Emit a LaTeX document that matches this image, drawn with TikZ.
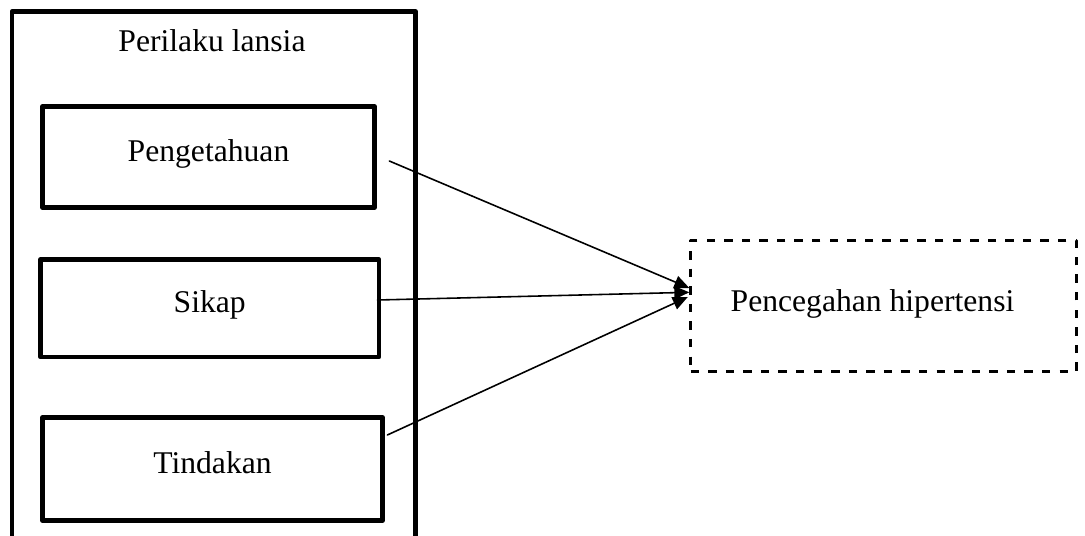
\documentclass[tikz,border=0pt]{standalone}
\usepackage{fontspec}
\setmainfont{Liberation Serif}
\usetikzlibrary{arrows.meta}
\tikzset{
	kotak/.style={draw,rectangle,line width=2.7pt,text height=0.68em,text depth=0.22em},
	kotakputus/.style={draw,rectangle,line width=1.5pt,line cap=butt,dash pattern=on 4.8pt off 5.2pt},
	panah/.style={->,line width=0.9pt}
}
\begin{document}
\begin{tikzpicture}[line cap=round,line join=round,>={Triangle[length=0.3cm,width=0.26cm]},x=0.02cm,y=-0.02cm,font=\fontsize{18}{22}\selectfont]
	\useasboundingbox (0,0) rectangle (1085,535);
	\clip (0,0) rectangle (1085,535);
	% kotak perilaku lansia
	\draw[line width=2.7pt] (12,11.5) rectangle (415.5,570);
	\node[anchor=base] (judul) at (212,51.7) {Perilaku lansia};
	\node[kotak,minimum width=6.64cm,minimum height=2.02cm] (pengetahuan) at (208.5,157) {Pengetahuan};
	\node[kotak,minimum width=6.77cm,minimum height=1.95cm] (sikap) at (209.75,308.25) {Sikap};
	\node[kotak,minimum width=6.8cm,minimum height=2.06cm] (tindakan) at (212.5,469) {Tindakan};
	% variabel terikat
	\node[kotakputus,minimum width=7.72cm,minimum height=2.62cm] (pencegahan) at (883.6,305.8) {};
	\node[anchor=base] (pencegahanteks) at (872.5,311.7) {Pencegahan hipertensi};
	% panah
	\draw[panah] ([shift={(12.5,4)}]pengetahuan.east) -- ([shift={(0,-17.8)}]pencegahan.west);
	\draw[panah] ([shift={(-4,-8.25)}]sikap.east) -- ([shift={(0,-13.5)}]pencegahan.west);
	\draw[panah] ([shift={(2.5,-34)}]tindakan.east) -- ([shift={(-1.5,-8.8)}]pencegahan.west);
\end{tikzpicture}
\end{document}
